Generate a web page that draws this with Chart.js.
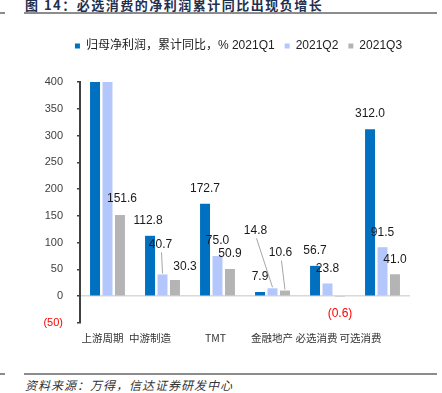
<!DOCTYPE html>
<html>
<head>
<meta charset="utf-8">
<script src="https://cdn.jsdelivr.net/npm/chart.js@4/dist/chart.umd.min.js"></script>
<style>
  html, body { margin: 0; padding: 0; background: #fff; }
  body { width: 442px; height: 393px; position: relative; overflow: hidden; }
  .title {
    position: absolute; left: 25px; top: -5px;
    font: bold 13px "Noto Sans CJK SC", sans-serif; letter-spacing: 1.5px;
    color: #1f3050; white-space: nowrap;
  }
  .rule { position: absolute; height: 2px; background: #8c8c8c; }
  .source {
    position: absolute; left: 25px; top: 376px;
    font: italic 12px "Noto Sans CJK SC", sans-serif; letter-spacing: 1px;
    color: #333; white-space: nowrap;
  }
  #wrap { position: absolute; left: 0; top: 30px; width: 442px; height: 320px; }
</style>
</head>
<body>
<div class="title">图 14：必选消费的净利润累计同比出现负增长</div>
<div class="rule" style="left:0;width:5px;top:12px"></div>
<div class="rule" style="left:24px;width:413px;top:12px"></div>
<div id="wrap"><canvas id="chart"></canvas></div>
<div class="rule" style="left:0;width:5px;top:373px"></div>
<div class="rule" style="left:24px;width:413px;top:373px"></div>
<div class="source">资料来源：万得，信达证券研发中心</div>

<script>
// data (upstream Q1/Q2 run off the top of the axis)
const categories = ['上游周期', '中游制造', 'TMT', '金融地产', '必选消费', '可选消费'];
const seriesNames = ['归母净利润，累计同比，% 2021Q1', '2021Q2', '2021Q3'];
const q1 = [1213.4, 112.8, 172.7, 7.9, 56.7, 312.0];
const q2 = [625.9, 40.7, 75.0, 14.8, 23.8, 91.5];
const q3 = [151.6, 30.3, 50.9, 10.6, -0.6, 41.0];
const yMin = -50, yMax = 400, yStep = 50;

const colors = ['#0070c0', '#b4c7fd', '#b4b4b4'];
const latin = "'Liberation Sans', 'Noto Sans CJK SC', sans-serif";

// label nudges (px) where the original moved labels by hand: "dataset-index": [dx, dy, leader]
const labelNudge = {
  '2-0': [2, -16],
  '0-1': [-2, -15],
  '1-1': [-2, -30, true],
  '2-1': [10, -13],
  '1-3': [-17, -58, true],
  '2-3': [-4.5, -38, true]
};
// category label shifts, the original labels sit off-centre
const catShift = [-5, -12.5, -2, -0.5, -11, -22];

function fmt(v) {
  return v < 0 ? '(' + Math.abs(v).toFixed(1) + ')' : v.toFixed(1);
}

const barLabels = {
  id: 'barLabels',
  afterDatasetsDraw(chart) {
    const ctx = chart.ctx;
    ctx.save();
    ctx.font = '12px ' + latin;
    ctx.textAlign = 'center';
    ctx.textBaseline = 'middle';
    chart.data.datasets.forEach((ds, d) => {
      chart.getDatasetMeta(d).data.forEach((bar, i) => {
        const v = ds.data[i];
        if (v > yMax) return;
        const n = labelNudge[d + '-' + i] || [0, -15];
        let x, y;
        if (v < 0) {
          x = bar.x; y = bar.y + 17;
          ctx.fillStyle = '#ff0000';
        } else {
          x = bar.x + n[0]; y = bar.y + n[1];
          ctx.fillStyle = '#1a1a1a';
        }
        if (n[2]) {
          ctx.strokeStyle = '#a6a6a6';
          ctx.lineWidth = 1;
          ctx.beginPath();
          ctx.moveTo(x + 1, y + 8);
          ctx.lineTo(bar.x, bar.y - 1);
          ctx.stroke();
        }
        ctx.fillText(fmt(v), x, y);
      });
    });
    ctx.restore();
  },
  afterDraw(chart) {
    const ctx = chart.ctx, xs = chart.scales.x;
    ctx.save();
    ctx.font = "10.5px 'Noto Sans CJK SC', sans-serif";
    ctx.fillStyle = '#333';
    ctx.textAlign = 'center';
    ctx.textBaseline = 'middle';
    categories.forEach((c, i) => {
      ctx.fillText(c, xs.getPixelForValue(i) + catShift[i], chart.chartArea.bottom + 15);
    });
    ctx.restore();
  }
};

// empty boxes that only take up room, so the plot sits where the original does
const gutter = (pos, size) => ({
  position: pos,
  grid: { display: false },
  border: { display: false },
  ticks: { display: false },
  afterFit: s => { if (pos === 'top') s.height = size; else s.width = size; }
});

new Chart(document.getElementById('chart'), {
  type: 'bar',
  data: {
    labels: categories,
    datasets: [q1, q2, q3].map((vals, k) => ({
      label: seriesNames[k],
      data: vals,
      backgroundColor: colors[k],
      categoryPercentage: 0.68,
      barPercentage: 0.8
    }))
  },
  options: {
    responsive: true,
    maintainAspectRatio: false,
    animation: false,
    layout: { padding: { left: 35, right: 0, top: 0, bottom: 0 } },
    plugins: {
      legend: {
        position: 'top',
        align: 'center',
        labels: {
          boxWidth: 5, boxHeight: 5, padding: 10,
          color: '#222', font: { size: 12, family: latin }
        }
      },
      tooltip: { enabled: false }
    },
    scales: {
      x: {
        grid: { display: false },
        border: { display: false },
        ticks: { display: false },
        afterFit: s => { s.height = 27; }
      },
      y: {
        min: yMin, max: yMax,
        ticks: {
          stepSize: yStep, padding: 14,
          font: { size: 11, family: latin },
          color: c => c.tick.value < 0 ? '#ff0000' : '#404040',
          callback: v => v < 0 ? '(' + Math.abs(v) + ')' : v
        },
        grid: {
          color: c => c.tick && c.tick.value === 0 ? '#d9d9d9' : 'rgba(0,0,0,0)',
          lineWidth: 1.5,
          tickColor: '#404040',
          tickLength: 3
        },
        border: { color: '#404040', width: 2 },
        afterFit: s => { s.width = 45; }
      },
      gutterRight: gutter('right', 32),
      gutterTop: gutter('top', 20)
    }
  },
  plugins: [barLabels]
});
</script>
</body>
</html>
